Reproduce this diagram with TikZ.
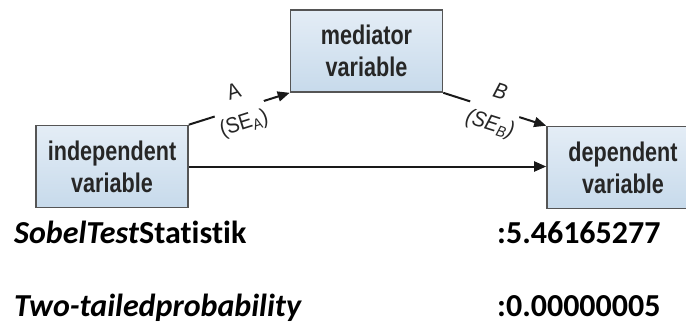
\documentclass[tikz,border=0pt]{standalone}
\usepackage{fontspec}
\setmainfont{Carlito}[Ligatures={NoCommon}]
\newfontfamily\boxfont[FakeStretch=0.8]{Liberation Sans}
\newfontfamily\labfont[FakeStretch=0.9]{Liberation Sans}
\usetikzlibrary{arrows.meta}
\definecolor{boxtop}{HTML}{E4EDF6}
\definecolor{boxbot}{HTML}{C7DAEB}
\definecolor{boxline}{HTML}{555555}
\definecolor{boxtext}{HTML}{262626}
\begin{document}
\begin{tikzpicture}[x=1pt,y=-1pt,
  varbox/.style={draw=boxline, line width=1.6pt, top color=boxtop, bottom color=boxbot,
    minimum width=152pt, minimum height=82pt, inner sep=0pt, align=center, text=boxtext,
    font=\boxfont\bfseries\fontsize{27}{32}\selectfont},
  conn/.style={draw=black!90, line width=2pt, -{Triangle[length=12pt,width=10pt]}},
  pathlab/.style={sloped, fill=white, align=center, inner xsep=1pt, inner ysep=0pt,
    text=boxtext, font=\labfont\fontsize{22}{33}\selectfont},
  stat/.style={anchor=base west, inner sep=0pt, font=\bfseries\fontsize{32}{36}\selectfont}]
\useasboundingbox (0,0) rectangle (686,325);
\clip (0,0) rectangle (686,325);
\node[varbox] (ind) at (112,166.5) {independent\\variable};
\node[varbox] (med) at (366.5,51) {mediator\\variable};
\node[varbox] (dep) at (623,167.5) {dependent\\variable};
\draw[conn] (ind.north east) -- node[pathlab] {A\\(SE\textsubscript{A})} (med.south west);
\draw[conn] (med.south east) -- node[pathlab] {\itshape B\\\itshape (SE\textsubscript{B})} (dep.north west);
\draw[conn] (ind.east) -- (ind.east -| dep.west);
\node[stat] (sobel) at (14,243) {\textit{SobelTest}Statistik};
\node[stat] (sobelv) at (497,243) {:5.46165277};
\node[stat] (two) at (14,316) {\textit{Two-tailedprobability}};
\node[stat] (twov) at (497,316) {:0.00000005};
\end{tikzpicture}
\end{document}
